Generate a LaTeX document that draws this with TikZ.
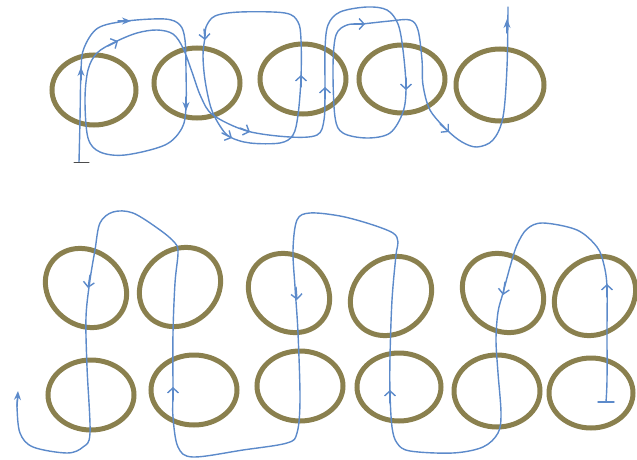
\documentclass[tikz,border=0pt]{standalone}
\usetikzlibrary{arrows.meta}
\definecolor{ringcol}{RGB}{138,128,78}
\definecolor{strandcol}{RGB}{92,138,202}
\tikzset{
  ring/.style={draw=ringcol, line width=5pt},
  strand/.style={draw=strandcol, line width=1.4pt, line cap=round, line join=round},
  ob/.style={strand, -{Straight Barb[length=5pt,width=11pt]}},
  fb/.style={strand, -{Stealth[length=9pt,width=7pt]}},
}
\begin{document}
\begin{tikzpicture}[x=1pt,y=-1pt]
\useasboundingbox (0,0) rectangle (637,460);
% ---- top chain ----
\draw[ring] (94,90) ellipse [x radius=42, y radius=35];
\draw[ring] (197,83) ellipse [x radius=43, y radius=35];
\draw[ring] (303,79) ellipse [x radius=43, y radius=35];
\draw[ring] (402,79) ellipse [x radius=43, y radius=34];
\draw[ring] (500,85) ellipse [x radius=44, y radius=36];
% ---- bottom rows ----
\draw[ring, rotate around={-40:(86,288)}] (86,288) ellipse [x radius=43, y radius=37];
\draw[ring, rotate around={40:(180,287)}] (180,287) ellipse [x radius=43, y radius=37];
\draw[ring, rotate around={-40:(289,293)}] (289,293) ellipse [x radius=43, y radius=37];
\draw[ring, rotate around={40:(391,296)}] (391,296) ellipse [x radius=43, y radius=37];
\draw[ring, rotate around={-40:(503,293)}] (503,293) ellipse [x radius=43, y radius=37];
\draw[ring, rotate around={40:(595,296)}] (595,296) ellipse [x radius=43, y radius=37];
\draw[ring] (91,395) ellipse [x radius=43, y radius=35];
\draw[ring] (194,390) ellipse [x radius=43, y radius=35];
\draw[ring] (300,386) ellipse [x radius=43, y radius=35];
\draw[ring] (399,387) ellipse [x radius=42, y radius=34];
\draw[ring] (497,391) ellipse [x radius=43, y radius=36];
\draw[ring] (591,393) ellipse [x radius=42, y radius=35];
% ---- top strand ----
\draw[strand] plot[smooth, tension=0.55] coordinates {
 (79,162) (80,120) (81,70) (84,48) (98,28) (127,21) (165,19) (180,25) (185,40)
 (186,70) (186,107) (182,128) (165,145) (125,155) (100,152) (88,138) (85,100)
 (88,70) (97,53) (115,42) (137,33) (157,30) (173,34) (183,48) (192,72) (201,97)
 (213,115) (247,131) (290,137) (317,135) (324,120) (325,90) (325,50) (328,25)
 (340,12) (367,7) (387,10) (398,24) (403,50) (406,87) (403,112) (390,133)
 (367,138) (343,133) (335,117) (333,67) (336,35) (347,25) (362,24) (390,21)
 (410,20) (418,30) (422,60) (423,85) (430,110) (447,130) (462,142) (477,147)
 (493,140) (503,117) (507,67) (508,7)};
\draw[strand, draw=black!70, line width=1pt] (74,162) -- (89,162);
\draw[strand] plot[smooth cycle, tension=0.55] coordinates {
 (205,37) (203,55) (205,80) (211,108) (220,126) (230,137) (250,143) (280,143)
 (293,135) (298,115) (301,78) (301,40) (298,22) (285,13) (240,12) (215,16) (206,27)};
% top arrows
\draw[fb] (81,80) -- (81,67);
\draw[fb] (118,21) -- (131,21);
\draw[fb] (186,97) -- (186,111);
\draw[ob] (108,46) -- (118,41);
\draw[ob] (240,128) -- (250,132);
\draw[ob] (222,133) -- (232,138);
\draw[ob] (204,29) -- (205,40);
\draw[ob] (301,87) -- (301,75);
\draw[ob] (325,99) -- (325,87);
\draw[ob] (406,78) -- (406,90);
\draw[ob] (354,24) -- (365,24);
\draw[ob] (440,124) -- (449,132);
\draw[fb] (507,33) -- (507,19);
% ---- bottom strand ----
\draw[strand] plot[smooth, tension=0.55] coordinates {
 (606,402) (607,380) (607,330) (607,287) (604,265) (597,247) (577,230) (543,223)
 (527,229) (517,245) (510,267) (503,293) (498,312) (496,340) (498,373) (501,413)
 (498,433) (483,447) (453,453) (410,451) (397,443) (392,427) (390,393) (390,357)
 (392,300) (396,255) (398,242) (393,233) (370,224) (340,216) (310,213) (297,220)
 (293,250) (295,287) (298,333) (300,400) (297,433) (287,443) (243,450) (193,457)
 (178,447) (173,417) (173,390) (173,333) (175,283) (178,253) (175,243) (160,230)
 (133,213) (113,212) (100,223) (95,250) (90,280) (86,317) (87,367) (90,433)
 (83,447) (67,453) (33,447) (20,433) (17,407) (18,397)};
\draw[strand] (598,402) -- (614,402);
% bottom arrows
\draw[ob] (607,297) -- (607,284);
\draw[ob] (505,282) -- (503,295);
\draw[ob] (390,403) -- (390,390);
\draw[ob] (296,287) -- (297,300);
\draw[ob] (173,400) -- (173,387);
\draw[ob] (90,275) -- (88,288);
\draw[fb] (17,407) -- (18,391);
\end{tikzpicture}
\end{document}
